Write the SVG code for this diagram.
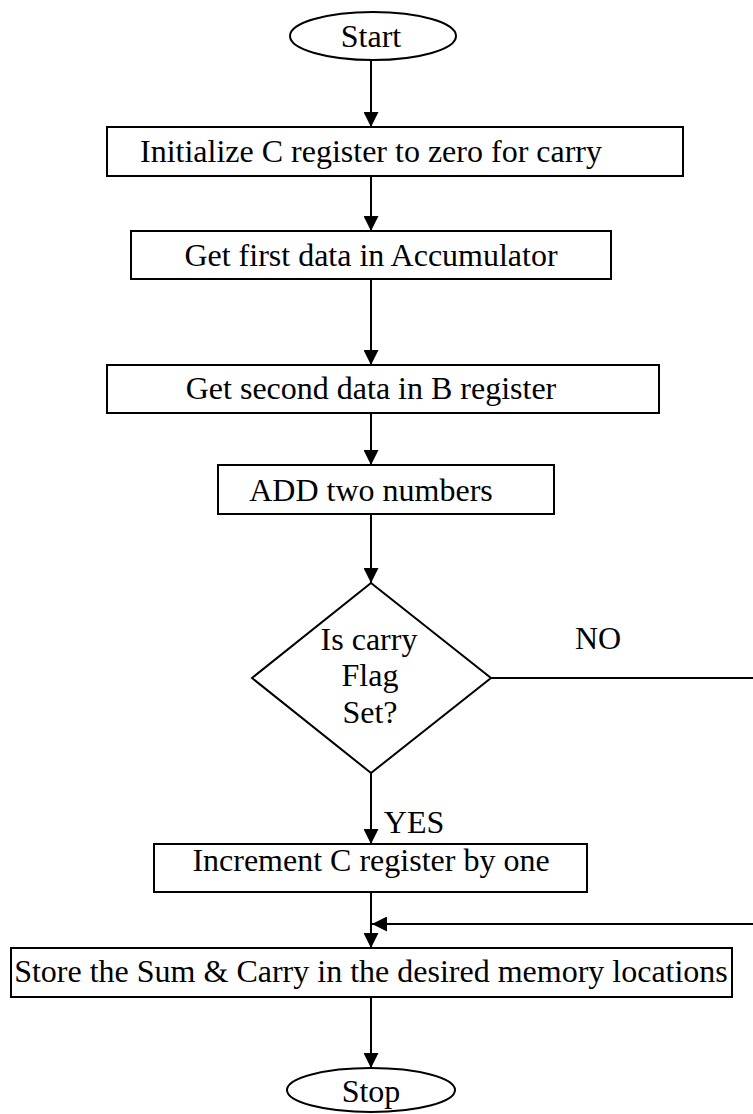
<svg xmlns="http://www.w3.org/2000/svg" width="753" height="1114" viewBox="0 0 753 1114">
  <style>
    .shape { fill: #ffffff; stroke: #000000; stroke-width: 2; }
    .label { font-family: "Liberation Serif", "Times New Roman", serif; font-size: 32px; fill: #000000; text-anchor: middle; }
    .edge { fill: none; stroke: #000000; stroke-width: 2; }
  </style>
  <defs>
    <marker id="arrow" markerUnits="userSpaceOnUse" markerWidth="15" markerHeight="15" refX="15" refY="7.5" orient="auto">
      <path d="M0,0 L15,7.5 L0,15 Z" fill="#000000"/>
    </marker>
  </defs>

  <rect width="753" height="1114" fill="#ffffff"/>

  <!-- connectors -->
  <g id="connectors">
    <line class="edge" x1="371" y1="60" x2="371" y2="127" marker-end="url(#arrow)"/>
    <line class="edge" x1="371" y1="176" x2="371" y2="231" marker-end="url(#arrow)"/>
    <line class="edge" x1="371" y1="279" x2="371" y2="365" marker-end="url(#arrow)"/>
    <line class="edge" x1="371" y1="413" x2="371" y2="465" marker-end="url(#arrow)"/>
    <line class="edge" x1="371" y1="514" x2="371" y2="583" marker-end="url(#arrow)"/>
    <line class="edge" x1="371" y1="773" x2="371" y2="844" marker-end="url(#arrow)"/>
    <line class="edge" x1="491" y1="678" x2="753" y2="678"/>
    <line class="edge" x1="371" y1="892" x2="371" y2="948" marker-end="url(#arrow)"/>
    <line class="edge" x1="753" y1="924" x2="372" y2="924" marker-end="url(#arrow)"/>
    <line class="edge" x1="371" y1="997" x2="371" y2="1068" marker-end="url(#arrow)"/>
    <text class="label" x="598" y="649">NO</text>
    <text class="label" x="414" y="833">YES</text>
  </g>

  <g id="start">
    <ellipse class="shape" cx="373" cy="36" rx="83" ry="24"/>
    <text class="label" x="371" y="47">Start</text>
  </g>

  <g id="init-c">
    <rect class="shape" x="107" y="127" width="576" height="49"/>
    <text class="label" x="371" y="162">Initialize C register to zero for carry</text>
  </g>

  <g id="load-a">
    <rect class="shape" x="131" y="231" width="480" height="48"/>
    <text class="label" x="371" y="266">Get first data in Accumulator</text>
  </g>

  <g id="load-b">
    <rect class="shape" x="107" y="365" width="552" height="48"/>
    <text class="label" x="371" y="399">Get second data in B register</text>
  </g>

  <g id="add">
    <rect class="shape" x="218" y="465" width="336" height="49"/>
    <text class="label" x="371" y="501">ADD two numbers</text>
  </g>

  <g id="carry-check">
    <polygon class="shape" points="371,583 491,678 371,773 252,678"/>
    <text class="label" x="369" y="650">Is carry</text>
    <text class="label" x="370" y="686">Flag</text>
    <text class="label" x="370" y="723">Set?</text>
  </g>

  <g id="inc-c">
    <rect class="shape" x="154" y="844" width="433" height="48"/>
    <text class="label" x="371" y="871">Increment C register by one</text>
  </g>

  <g id="store">
    <rect class="shape" x="11" y="948" width="721" height="49"/>
    <text class="label" x="371" y="982">Store the Sum &amp; Carry in the desired memory locations</text>
  </g>

  <g id="stop">
    <ellipse class="shape" cx="371" cy="1090" rx="84" ry="22"/>
    <text class="label" x="371" y="1102">Stop</text>
  </g>
</svg>
